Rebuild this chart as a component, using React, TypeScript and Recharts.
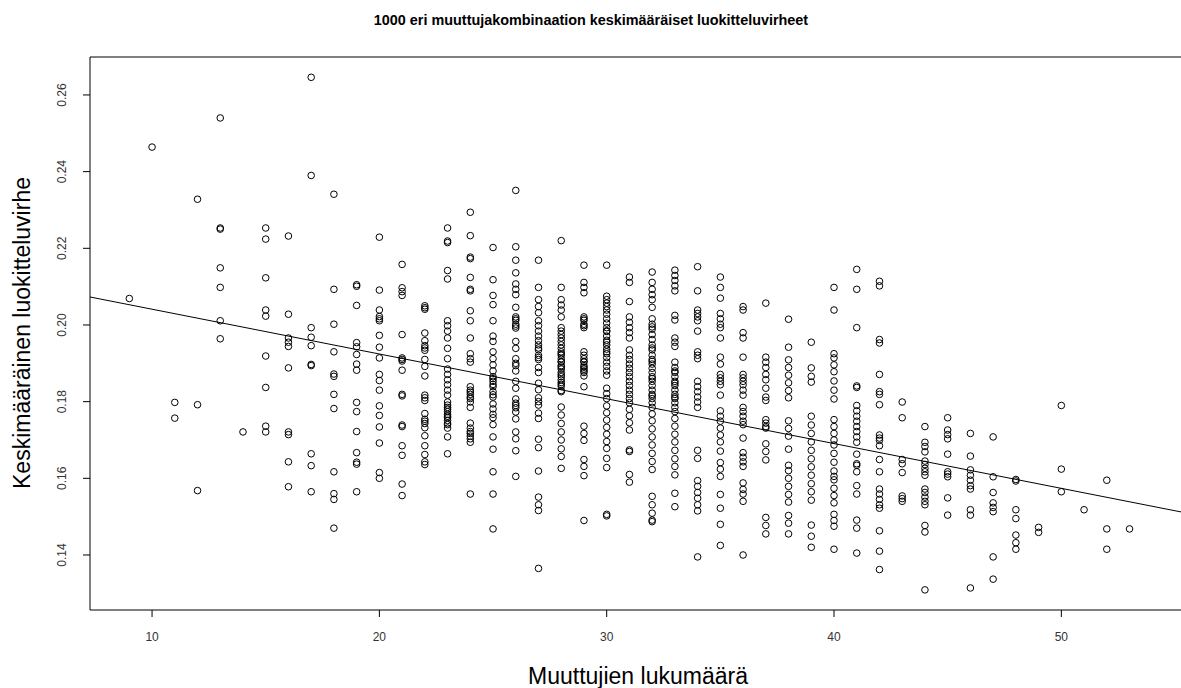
import React from 'react';
import { ScatterChart, Scatter, XAxis, YAxis, ReferenceLine } from 'recharts';

// Mean classification error of each variable combination, grouped by number of variables.
const k09 = [0.2069];
const k10 = [0.2464];
const k11 = [0.1798, 0.1757];
const k12 = [0.2328, 0.1792, 0.1568];
const k13 = [0.254, 0.2253, 0.225, 0.2149, 0.2098, 0.2011, 0.1964];
const k14 = [0.1721];
const k15 = [0.2253, 0.2224, 0.2123, 0.2039, 0.2023, 0.1919, 0.1837, 0.1736, 0.1721];
const k16 = [0.2232, 0.2028, 0.1966, 0.1955, 0.1944, 0.1888, 0.1721, 0.1714, 0.1643, 0.1578];
const k17 = [0.2646, 0.239, 0.1993, 0.1968, 0.1946, 0.1897, 0.1894, 0.1664, 0.1633, 0.1565];
const k18 = [0.2341, 0.2093, 0.2002, 0.193, 0.1872, 0.1866, 0.1819, 0.1782, 0.1617, 0.156, 0.1545, 0.147];
const k19 = [0.2105, 0.2101, 0.2051, 0.1954, 0.1943, 0.1923, 0.1898, 0.1882, 0.1798, 0.1774, 0.1722, 0.1667, 0.1642, 0.1637, 0.1565];
const k20 = [0.2229, 0.2091, 0.2039, 0.2022, 0.2016, 0.2011, 0.1973, 0.1942, 0.1914, 0.1871, 0.1855, 0.183, 0.1789, 0.1764, 0.1734, 0.1692, 0.1615, 0.16];
const k21 = [0.2158, 0.2097, 0.2087, 0.2077, 0.1975, 0.1914, 0.191, 0.1906, 0.1882, 0.1819, 0.1815, 0.1739, 0.1735, 0.1685, 0.166, 0.1585, 0.1555];
const k22 = [0.205, 0.2045, 0.2041, 0.1979, 0.1959, 0.1946, 0.194, 0.1934, 0.191, 0.1892, 0.1867, 0.1817, 0.181, 0.1803, 0.1769, 0.1754, 0.1749, 0.1743, 0.1732, 0.1711, 0.1685, 0.1662, 0.1643, 0.1636];
const k23 = [0.2253, 0.2219, 0.2215, 0.2142, 0.212, 0.2011, 0.1998, 0.1984, 0.1966, 0.1939, 0.1912, 0.1885, 0.1871, 0.1857, 0.1844, 0.183, 0.1817, 0.1799, 0.1791, 0.1785, 0.178, 0.1774, 0.1767, 0.1762, 0.1758, 0.1751, 0.1744, 0.174, 0.1731, 0.1708, 0.1664];
const k24 = [0.2294, 0.2233, 0.2177, 0.2173, 0.2124, 0.2093, 0.2089, 0.2037, 0.2011, 0.1966, 0.1925, 0.1912, 0.1903, 0.1839, 0.183, 0.1825, 0.1819, 0.1812, 0.1808, 0.1799, 0.1785, 0.1744, 0.1731, 0.1722, 0.1717, 0.171, 0.1703, 0.1694, 0.1559];
const k25 = [0.2202, 0.2118, 0.2077, 0.2053, 0.2011, 0.1971, 0.1957, 0.193, 0.1912, 0.1896, 0.188, 0.1865, 0.186, 0.1853, 0.1845, 0.1839, 0.1826, 0.1818, 0.1812, 0.1794, 0.1781, 0.1767, 0.1758, 0.174, 0.1708, 0.1676, 0.1617, 0.1559, 0.1468];
const k26 = [0.2351, 0.2204, 0.2169, 0.2136, 0.2107, 0.2093, 0.2079, 0.2046, 0.2021, 0.2016, 0.2012, 0.2002, 0.1997, 0.1992, 0.1957, 0.1939, 0.1912, 0.19, 0.1894, 0.188, 0.1853, 0.1835, 0.1807, 0.1796, 0.179, 0.1784, 0.1773, 0.1755, 0.1721, 0.1703, 0.1672, 0.1605];
const k27 = [0.2169, 0.2098, 0.2066, 0.2048, 0.2032, 0.2011, 0.1998, 0.1984, 0.1971, 0.1959, 0.1948, 0.194, 0.1935, 0.1921, 0.1915, 0.191, 0.1889, 0.1876, 0.1848, 0.1831, 0.181, 0.18, 0.1791, 0.177, 0.1756, 0.1702, 0.168, 0.1619, 0.1551, 0.1531, 0.1516, 0.1365];
const k28 = [0.222, 0.2098, 0.2066, 0.2052, 0.2039, 0.2021, 0.1993, 0.1984, 0.1975, 0.1966, 0.1957, 0.1948, 0.1939, 0.193, 0.1925, 0.1921, 0.1912, 0.1905, 0.1903, 0.1894, 0.189, 0.1885, 0.1876, 0.187, 0.1865, 0.1857, 0.185, 0.1845, 0.184, 0.1829, 0.1826, 0.1786, 0.1765, 0.1743, 0.1721, 0.17, 0.1677, 0.1657, 0.1626];
const k29 = [0.2156, 0.2111, 0.2098, 0.2084, 0.2021, 0.2016, 0.2012, 0.2002, 0.1998, 0.1993, 0.193, 0.1921, 0.1912, 0.1905, 0.1903, 0.1894, 0.189, 0.1885, 0.188, 0.1876, 0.1867, 0.1839, 0.1736, 0.1717, 0.1699, 0.1649, 0.1631, 0.1607, 0.149];
const k30 = [0.2156, 0.2075, 0.2066, 0.2057, 0.2048, 0.2039, 0.2028, 0.2016, 0.2005, 0.1993, 0.1985, 0.1983, 0.1971, 0.196, 0.1955, 0.1948, 0.1937, 0.193, 0.1925, 0.1915, 0.1903, 0.1892, 0.188, 0.1869, 0.1835, 0.1821, 0.1808, 0.1789, 0.1771, 0.1752, 0.1733, 0.1715, 0.1696, 0.1678, 0.1652, 0.1628, 0.1506, 0.1502];
const k31 = [0.2125, 0.2111, 0.2061, 0.2021, 0.2007, 0.1993, 0.198, 0.1966, 0.1935, 0.1921, 0.191, 0.1898, 0.1887, 0.1876, 0.1865, 0.1853, 0.1842, 0.183, 0.1819, 0.1808, 0.1797, 0.178, 0.1763, 0.1745, 0.1726, 0.1674, 0.167, 0.161, 0.159];
const k32 = [0.2138, 0.2111, 0.2093, 0.2079, 0.2066, 0.2046, 0.2016, 0.2002, 0.1995, 0.1989, 0.1975, 0.1962, 0.1948, 0.194, 0.1935, 0.1921, 0.191, 0.1905, 0.1898, 0.1887, 0.1876, 0.1865, 0.186, 0.1853, 0.1842, 0.183, 0.1819, 0.1815, 0.1808, 0.1797, 0.1785, 0.1768, 0.175, 0.1729, 0.1708, 0.1687, 0.1665, 0.1644, 0.1623, 0.1553, 0.1531, 0.1509, 0.1491, 0.1487];
const k33 = [0.2143, 0.2129, 0.2116, 0.2102, 0.2089, 0.2025, 0.2013, 0.1966, 0.1955, 0.1944, 0.1903, 0.1889, 0.188, 0.1876, 0.1865, 0.1853, 0.1848, 0.1842, 0.183, 0.1819, 0.1812, 0.1808, 0.1797, 0.1785, 0.1774, 0.1756, 0.1736, 0.1715, 0.1695, 0.1673, 0.1651, 0.1631, 0.1609, 0.1561, 0.1526];
const k34 = [0.2152, 0.2089, 0.2039, 0.203, 0.2021, 0.2011, 0.1984, 0.193, 0.1921, 0.1912, 0.1853, 0.1839, 0.1826, 0.1812, 0.1799, 0.1785, 0.1673, 0.1652, 0.1594, 0.1579, 0.1563, 0.1548, 0.1531, 0.1515, 0.1395];
const k35 = [0.2125, 0.2098, 0.207, 0.203, 0.2016, 0.2002, 0.1993, 0.1966, 0.1916, 0.1898, 0.1871, 0.1862, 0.1853, 0.1844, 0.1817, 0.1776, 0.1762, 0.1749, 0.1731, 0.1713, 0.1695, 0.1671, 0.1641, 0.1624, 0.1605, 0.1558, 0.1522, 0.148, 0.1425];
const k36 = [0.2048, 0.2039, 0.198, 0.1966, 0.1916, 0.1871, 0.1862, 0.1853, 0.1844, 0.183, 0.1817, 0.1785, 0.1774, 0.1762, 0.1749, 0.174, 0.1705, 0.1667, 0.1655, 0.1643, 0.1631, 0.1588, 0.1571, 0.1559, 0.154, 0.14];
const k37 = [0.2057, 0.1916, 0.1903, 0.1889, 0.1871, 0.1857, 0.1835, 0.1812, 0.1803, 0.1753, 0.1744, 0.1735, 0.1731, 0.169, 0.167, 0.1648, 0.1498, 0.1477, 0.1455];
const k38 = [0.2015, 0.1942, 0.1909, 0.1889, 0.1869, 0.1849, 0.1829, 0.181, 0.175, 0.173, 0.171, 0.1676, 0.1634, 0.162, 0.16, 0.1579, 0.1558, 0.1538, 0.1503, 0.1483, 0.1455];
const k39 = [0.1955, 0.1888, 0.1866, 0.1851, 0.1762, 0.1739, 0.1717, 0.1695, 0.1673, 0.1651, 0.163, 0.1608, 0.1586, 0.1565, 0.1543, 0.1478, 0.1449, 0.142];
const k40 = [0.2098, 0.2039, 0.1925, 0.1914, 0.1896, 0.1878, 0.1854, 0.183, 0.1807, 0.1753, 0.1735, 0.1717, 0.17, 0.1687, 0.1665, 0.1642, 0.1619, 0.1605, 0.1596, 0.1574, 0.1555, 0.1536, 0.1506, 0.149, 0.1475, 0.1415];
const k41 = [0.2145, 0.2093, 0.1993, 0.1841, 0.1837, 0.179, 0.1776, 0.1762, 0.1749, 0.1735, 0.1722, 0.1708, 0.1694, 0.1663, 0.1638, 0.1634, 0.1617, 0.1581, 0.1559, 0.1491, 0.147, 0.1405];
const k42 = [0.2114, 0.2102, 0.1962, 0.1953, 0.1871, 0.1826, 0.1819, 0.1792, 0.1713, 0.1705, 0.1699, 0.1685, 0.1649, 0.1617, 0.1572, 0.1559, 0.1545, 0.1531, 0.1522, 0.1463, 0.141, 0.1362];
const k43 = [0.1799, 0.1758, 0.1649, 0.1638, 0.1615, 0.1554, 0.1547, 0.154];
const k44 = [0.1735, 0.1694, 0.1683, 0.1669, 0.1645, 0.1636, 0.1626, 0.1617, 0.1608, 0.1572, 0.1563, 0.1551, 0.154, 0.1531, 0.1477, 0.146, 0.1309];
const k45 = [0.1758, 0.1726, 0.1714, 0.1703, 0.1663, 0.1617, 0.1611, 0.1604, 0.1549, 0.1504];
const k46 = [0.1717, 0.1658, 0.1622, 0.1608, 0.1595, 0.1581, 0.1572, 0.1518, 0.1504, 0.1314];
const k47 = [0.1708, 0.1604, 0.1563, 0.1536, 0.1524, 0.1513, 0.1395, 0.1337];
const k48 = [0.1597, 0.1593, 0.1518, 0.1495, 0.1452, 0.1432, 0.1415];
const k49 = [0.1472, 0.1459];
const k50 = [0.179, 0.1624, 0.1565];
const k51 = [0.1518];
const k52 = [0.1595, 0.1468, 0.1415];
const k53 = [0.1468];

const VARIABLE_COUNTS = [9, 10, 11, 12, 13, 14, 15, 16, 17, 18, 19, 20, 21, 22, 23, 24, 25, 26, 27, 28, 29, 30, 31, 32, 33, 34, 35, 36, 37, 38, 39, 40, 41, 42, 43, 44, 45, 46, 47, 48, 49, 50, 51, 52, 53];
const ERRORS_BY_COUNT = [k09, k10, k11, k12, k13, k14, k15, k16, k17, k18, k19, k20, k21, k22, k23, k24, k25, k26, k27, k28, k29, k30, k31, k32, k33, k34, k35, k36, k37, k38, k39, k40, k41, k42, k43, k44, k45, k46, k47, k48, k49, k50, k51, k52, k53];

const X_TICKS = [10, 20, 30, 40, 50];
const Y_TICKS = [0.14, 0.16, 0.18, 0.2, 0.22, 0.24, 0.26];
const X_DOMAIN: [number, number] = [7.27, 57.86];
const Y_DOMAIN: [number, number] = [0.12565, 0.2699];

// Least-squares trend line end points.
const FIT_START = { x: 7.27, y: 0.2073 };
const FIT_END = { x: 57.86, y: 0.1482 };

const TITLE = '1000 eri muuttujakombinaation keskimääräiset luokitteluvirheet';
const X_LABEL = 'Muuttujien lukumäärä';
const Y_LABEL = 'Keskimääräinen luokitteluvirhe';

const FONT = '"Liberation Sans", Arial, sans-serif';

const points = VARIABLE_COUNTS.flatMap((n, i) => ERRORS_BY_COUNT[i].map((e) => ({ x: n, y: e })));

const Ring = (p: any) => (
  <circle cx={p.cx} cy={p.cy} r={3.3} fill="none" stroke="#000" strokeWidth={1} />
);

const XTick = (p: any) => (
  <text x={p.x} y={p.y + 22} textAnchor="middle" fontSize={12} fill="#333" fontFamily={FONT}>
    {p.payload.value}
  </text>
);

const YTick = (p: any) => {
  const tx = p.x - 15;
  return (
    <text
      x={tx}
      y={p.y}
      transform={`rotate(-90 ${tx} ${p.y})`}
      textAnchor="middle"
      fontSize={12}
      fill="#333"
      fontFamily={FONT}
    >
      {Number(p.payload.value).toFixed(2)}
    </text>
  );
};

export default function App() {
  return (
    <div
      style={{
        position: 'absolute',
        left: 0,
        top: 0,
        width: 1181,
        height: 688,
        overflow: 'hidden',
        background: '#fff',
      }}
    >
      <ScatterChart width={1240} height={688} margin={{ top: 57, right: 0, bottom: 0, left: 0 }}>
        <XAxis
          type="number"
          dataKey="x"
          domain={X_DOMAIN}
          ticks={X_TICKS}
          allowDataOverflow
          height={78}
          tickSize={7}
          tickLine={{ stroke: '#000' }}
          axisLine={{ stroke: '#000' }}
          tick={<XTick />}
        />
        <YAxis
          type="number"
          dataKey="y"
          domain={Y_DOMAIN}
          ticks={Y_TICKS}
          allowDataOverflow
          width={90}
          tickSize={7}
          tickLine={{ stroke: '#000' }}
          axisLine={{ stroke: '#000' }}
          tick={<YTick />}
        />
        <ReferenceLine y={Y_DOMAIN[1]} stroke="#000" />
        <Scatter data={points} shape={<Ring />} isAnimationActive={false} />
        <ReferenceLine segment={[FIT_START, FIT_END]} stroke="#000" strokeWidth={1} />
      </ScatterChart>
      <svg
        width={1181}
        height={688}
        style={{ position: 'absolute', left: 0, top: 0, pointerEvents: 'none' }}
      >
        <text x={591} y={25} textAnchor="middle" fontSize={14.4} fontWeight="bold" fill="#000" fontFamily={FONT}>
          {TITLE}
        </text>
        <text x={638} y={684} textAnchor="middle" fontSize={23} fill="#000" fontFamily={FONT}>
          {X_LABEL}
        </text>
        <text
          x={30}
          y={333}
          transform="rotate(-90 30 333)"
          textAnchor="middle"
          fontSize={23}
          fill="#000"
          fontFamily={FONT}
        >
          {Y_LABEL}
        </text>
      </svg>
    </div>
  );
}
